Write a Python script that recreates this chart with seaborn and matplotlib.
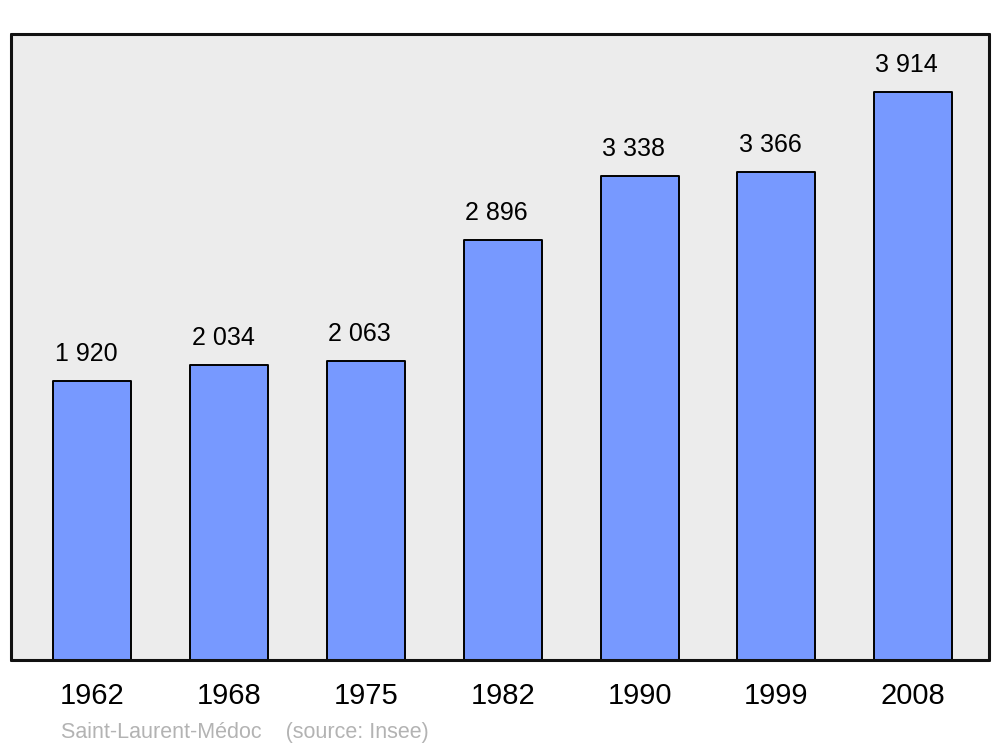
import matplotlib
matplotlib.use("Agg")
import matplotlib.pyplot as plt
import seaborn as sns
import pandas as pd

years = ["1962", "1968", "1975", "1982", "1990", "1999", "2008"]
population = [1920, 2034, 2063, 2896, 3338, 3366, 3914]
value_labels = ["1 920", "2 034", "2 063", "2 896", "3 338", "3 366", "3 914"]
footer = "Saint-Laurent-Médoc    (source: Insee)"

sns.set_theme(style="white")
plt.rcParams['font.family'] = ['Liberation Sans', 'DejaVu Sans']

df = pd.DataFrame({"year": years, "pop": population})

fig = plt.figure(figsize=(10, 7.47), dpi=100)
ax = fig.add_axes([0.011, 1 - 660 / 747, 0.978, (660 - 34) / 747])
ax.set_facecolor("#ececec")

sns.barplot(data=df, x="year", y="pop", order=years, color="#7799ff",
            saturation=1, width=0.57, edgecolor="black", linewidth=1.4, ax=ax)
for p in ax.patches:
    p.set_joinstyle("round")

ax.set_xlim(-0.595, 6.555)
ax.set_ylim(0, 4315)
ax.set_xlabel("")
ax.set_ylabel("")
ax.set_yticks([])
ax.tick_params(axis="x", length=0, pad=16, labelsize=21, labelcolor="black")

for s in ax.spines.values():
    s.set_visible(True)
    s.set_color("#111111")
    s.set_linewidth(2.2)
    s.set_capstyle("round")

for p, lab in zip(ax.patches, value_labels):
    ax.annotate(lab, (p.get_x(), p.get_height()), xytext=(1, 14.5),
                textcoords="offset points", ha="left", va="baseline",
                fontsize=18, color="black")

fig.text(0.061, 1 - 738 / 747, footer, ha="left", va="baseline",
         fontsize=15.5, color="#b3b3b3")

fig.savefig("out.png", dpi=100, facecolor="white")
